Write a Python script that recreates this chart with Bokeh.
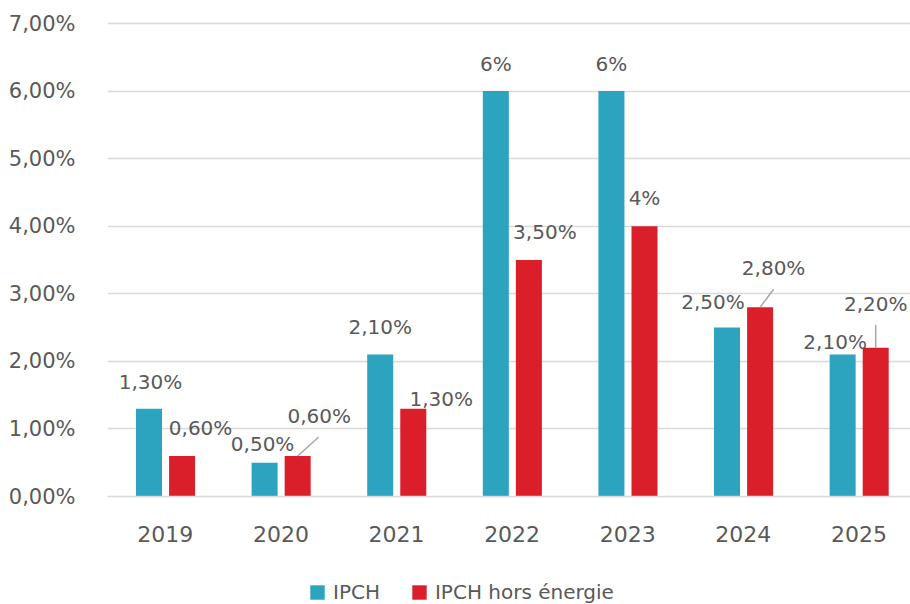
from bokeh.plotting import figure
from bokeh.layouts import column
from bokeh.models import ColumnDataSource, FixedTicker, Legend, LegendItem, Range1d
from bokeh.core.properties import value
from bokeh.embed import file_html
from bokeh.resources import INLINE

years = ["2019", "2020", "2021", "2022", "2023", "2024", "2025"]
ipch = [1.3, 0.5, 2.1, 6.0, 6.0, 2.5, 2.1]
hors_energie = [0.6, 0.6, 1.3, 3.5, 4.0, 2.8, 2.2]
ipch_labels = ["1,30%", "0,50%", "2,10%", "6%", "6%", "2,50%", "2,10%"]
hors_labels = ["0,60%", "0,60%", "1,30%", "3,50%", "4%", "2,80%", "2,20%"]
y_ticks = [0, 1, 2, 3, 4, 5, 6, 7]
y_tick_labels = ["0,00%", "1,00%", "2,00%", "3,00%", "4,00%", "5,00%", "6,00%", "7,00%"]
series_names = ["IPCH", "IPCH hors énergie"]

# label placement (screen px, relative to bar top centre)
ipch_dx = [1.5, -2, 0, 0, 0, -14, -7.5]
ipch_dy = [-27, -19, -28, -27, -27, -26, -13]
hors_dx = [18.5, 21.5, 28, 16, 0, 13.5, 0]
hors_dy = [-27.5, -39.5, -10, -28, -28, -39, -44]

FONT = "DejaVu Sans"
TXT = "#595959"
BLUE = "#2CA3BF"
RED = "#DA1F2A"
FRAME_W, FRAME_H = 803, 480
X0, X1 = -0.5, 6.446
Y0, Y1 = 0, 7.104
px_x = FRAME_W / (X1 - X0)
px_y = FRAME_H / (Y1 - Y0)

DODGE_B, DODGE_R, BAR_W = -0.141, 0.145, 0.225

p = figure(frame_width=FRAME_W, frame_height=FRAME_H, output_backend="svg",
           toolbar_location=None, x_range=Range1d(X0, X1), y_range=Range1d(Y0, Y1),
           min_border_left=107, min_border_right=0, min_border_top=16, min_border_bottom=64)
p.outline_line_color = None
p.background_fill_color = "white"

idx = list(range(len(years)))
src = ColumnDataSource(dict(
    xb=[i + DODGE_B for i in idx], xr=[i + DODGE_R for i in idx],
    ipch=ipch, hors=hors_energie, lb=ipch_labels, lr=hors_labels,
    bdx=ipch_dx, bdy=ipch_dy, rdx=hors_dx, rdy=hors_dy))

p.vbar(x="xb", top="ipch", width=BAR_W, source=src, fill_color=BLUE, line_color=None)
p.vbar(x="xr", top="hors", width=BAR_W, source=src, fill_color=RED, line_color=None)

for xcol, lcol, dx, dy in (("xb", "lb", "bdx", "bdy"), ("xr", "lr", "rdx", "rdy")):
    p.text(x=xcol, y="ipch" if xcol == "xb" else "hors", text=lcol, x_offset=dx, y_offset=dy,
           source=src, text_align="center", text_baseline="middle",
           text_font=value(FONT), text_font_size="20px", text_color=TXT)

# leader lines for some red labels
lead_idx = [1, 5, 6]
lead_end_dx = [21, 13.5, 0]
lead_end_dy = [-19, -18, -23]
p.segment(x0=[i + DODGE_R for i in lead_idx], y0=[hors_energie[i] for i in lead_idx],
          x1=[i + DODGE_R + dx / px_x for i, dx in zip(lead_idx, lead_end_dx)],
          y1=[hors_energie[i] - dy / px_y for i, dy in zip(lead_idx, lead_end_dy)],
          line_color="#A6A6A6", line_width=1.5)

p.xgrid.grid_line_color = None
p.ygrid.grid_line_color = "#D9D9D9"
p.ygrid.grid_line_width = 1.5
p.ygrid.ticker = FixedTicker(ticks=y_ticks)

p.yaxis.ticker = FixedTicker(ticks=y_ticks)
p.yaxis.major_label_overrides = {t: s for t, s in zip(y_ticks, y_tick_labels)}
p.yaxis.axis_line_color = None
p.yaxis.major_tick_line_color = None
p.yaxis.minor_tick_line_color = None
p.yaxis.major_label_standoff = 26
p.yaxis.major_label_text_font = FONT
p.yaxis.major_label_text_font_size = "21px"
p.yaxis.major_label_text_color = TXT

p.xaxis.ticker = FixedTicker(ticks=idx)
p.xaxis.major_label_overrides = {i: y for i, y in zip(idx, years)}
p.xaxis.axis_line_color = "#D9D9D9"
p.xaxis.axis_line_width = 1.5
p.xaxis.major_tick_line_color = None
p.xaxis.minor_tick_line_color = None
p.xaxis.major_label_standoff = 23
p.xaxis.major_label_text_font = FONT
p.xaxis.major_label_text_font_size = "22px"
p.xaxis.major_label_text_color = TXT

# legend in its own strip below the chart (its bars lie outside its visible range)
lg = figure(width=910, height=44, output_backend="svg", toolbar_location=None,
            x_range=Range1d(100, 101), y_range=Range1d(100, 101),
            min_border_left=0, min_border_right=0, min_border_top=0, min_border_bottom=0)
lg.axis.visible = False
lg.grid.visible = False
lg.outline_line_color = None
lb_r = lg.vbar(x="xb", top="ipch", width=BAR_W, source=src, fill_color=BLUE, line_color=None)
lr_r = lg.vbar(x="xr", top="hors", width=BAR_W, source=src, fill_color=RED, line_color=None)
legend = Legend(items=[LegendItem(label=series_names[0], renderers=[lb_r]),
                       LegendItem(label=series_names[1], renderers=[lr_r])],
                orientation="horizontal", location=(201, 0), border_line_color=None,
                label_text_font=FONT, label_text_font_size="20px", label_text_color=TXT,
                glyph_width=18, glyph_height=18, spacing=30, margin=0, padding=0,
                label_standoff=7, background_fill_alpha=0)
lg.add_layout(legend, "center")

open("out.html", "w").write(file_html(column(p, lg, spacing=0), INLINE))
